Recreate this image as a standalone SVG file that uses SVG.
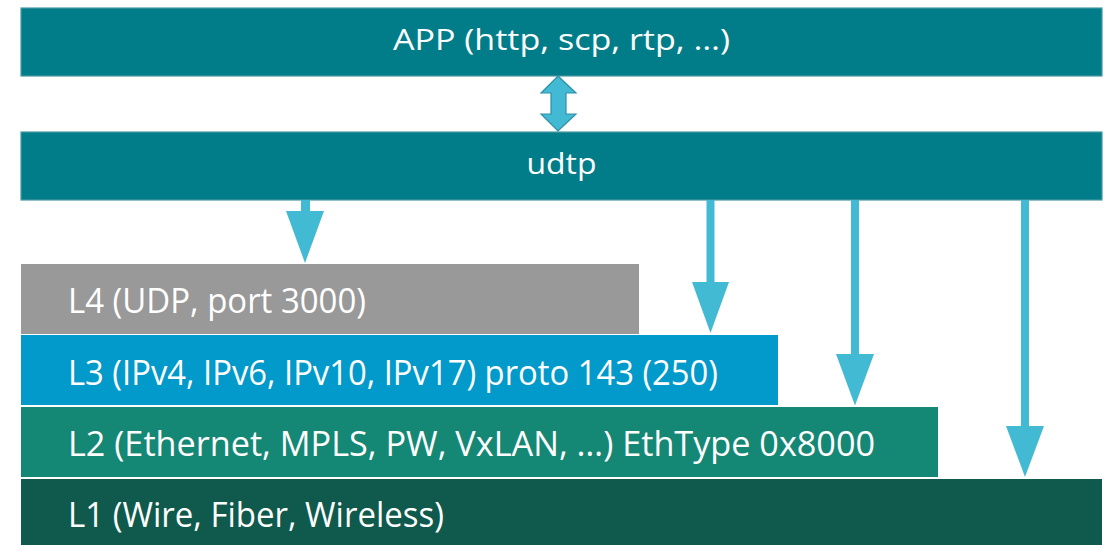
<svg xmlns="http://www.w3.org/2000/svg" width="1110" height="545" viewBox="0 0 1110 545">
<style>
.bar{fill:#007d89;stroke:#4a9aa4;stroke-width:1.2}
.t{font-family:"Open Sans","Liberation Sans",sans-serif;fill:#ffffff}
.top{font-size:30px}
.lay{font-size:35px}
.arr{fill:#42bad3}
.dbl{fill:#42bad3;stroke:#2e8fa6;stroke-width:1.2}
</style>
<rect width="1110" height="545" fill="#ffffff"/>
<g id="app">
<rect class="bar" x="21" y="8" width="1081" height="68"/>
<text class="t top" x="561.5" y="50" text-anchor="middle" textLength="337" lengthAdjust="spacingAndGlyphs">APP (http, scp, rtp, …)</text>
</g>
<g id="udtp">
<rect class="bar" x="21" y="132" width="1081" height="68"/>
<text class="t top" x="561.5" y="174" text-anchor="middle" textLength="70" lengthAdjust="spacingAndGlyphs">udtp</text>
</g>
<g id="l4">
<rect x="21" y="264" width="618" height="70" fill="#999999"/>
<text class="t lay" x="68" y="313" textLength="298" lengthAdjust="spacingAndGlyphs">L4 (UDP, port 3000)</text>
</g>
<g id="l3">
<rect x="21" y="335" width="757" height="70" fill="#0299cb"/>
<text class="t lay" x="68" y="385" textLength="650" lengthAdjust="spacingAndGlyphs">L3 (IPv4, IPv6, IPv10, IPv17) proto 143 (250)</text>
</g>
<g id="l2">
<rect x="21" y="407" width="917" height="70" fill="#158775"/>
<text class="t lay" x="68" y="456" textLength="807" lengthAdjust="spacingAndGlyphs">L2 (Ethernet, MPLS, PW, VxLAN, …) EthType 0x8000</text>
</g>
<g id="l1">
<rect x="21" y="479" width="1081" height="66" fill="#0f5a4c"/>
<text class="t lay" x="68" y="527" textLength="376" lengthAdjust="spacingAndGlyphs">L1 (Wire, Fiber, Wireless)</text>
</g>
<g id="connectors">
<polygon class="dbl" points="558,76 576,93 566,93 566,114 576,114 558,131 541,114 551,114 551,93 541,93"/>
<polygon class="arr" points="301,200 310,200 310,211 324,211 305,263 286,211 301,211"/>
<polygon class="arr" points="706.5,200 714.5,200 714.5,282 729,282 710.5,333 692,282 706.5,282"/>
<polygon class="arr" points="851,200 859,200 859,354 874,354 855,405.5 836,354 851,354"/>
<polygon class="arr" points="1021,200 1029,200 1029,426 1044,426 1025,477 1006,426 1021,426"/>
</g>
</svg>
